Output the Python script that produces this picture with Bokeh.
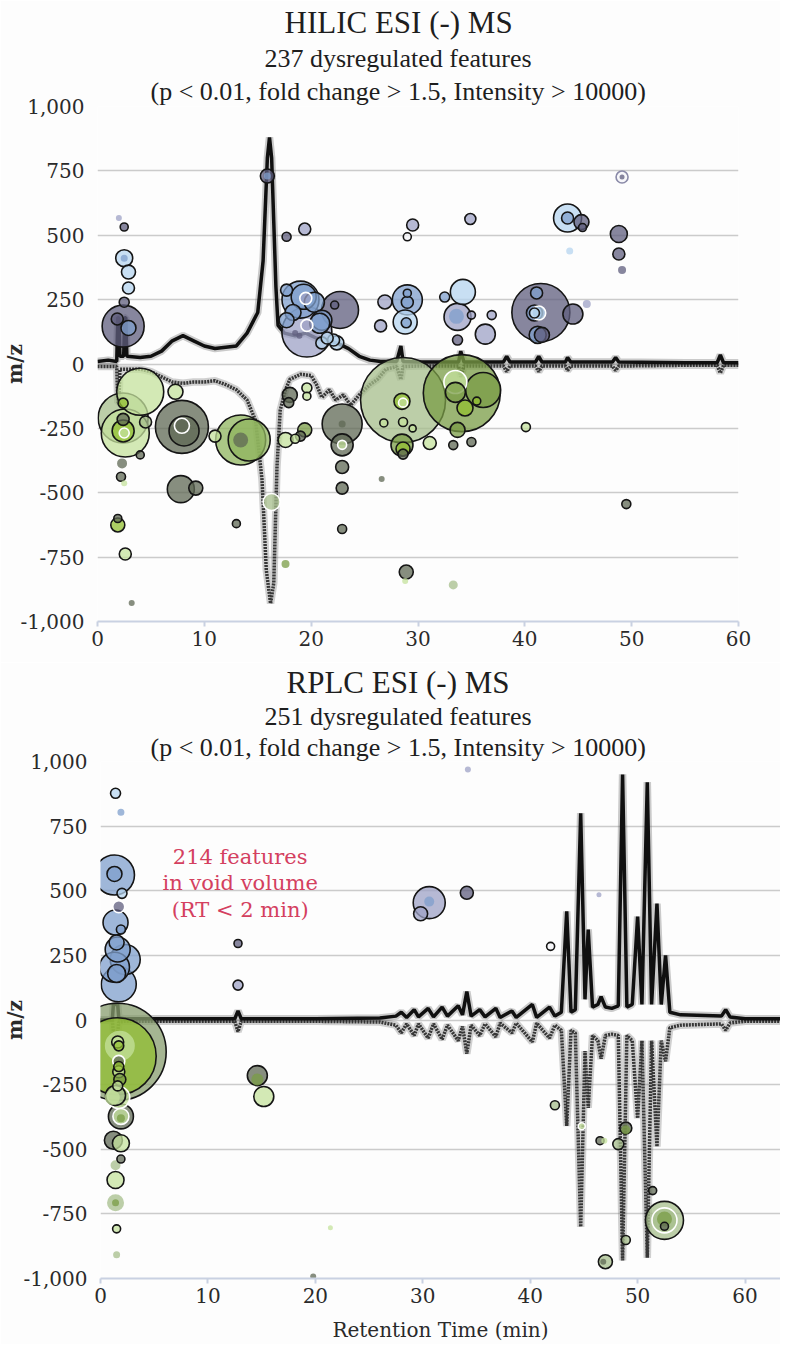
import math
from bokeh.plotting import figure
from bokeh.models import Range1d, FixedTicker, NumeralTickFormatter, ColumnDataSource, Title
from bokeh.embed import file_html
from bokeh.resources import INLINE
from bokeh.core.properties import value

# ---------------- DATA ----------------
y_ticks = [-1000, -750, -500, -250, 0, 250, 500, 750, 1000]
x_ticks = [0, 10, 20, 30, 40, 50, 60]

hilic_title = ["HILIC ESI (-) MS", "237 dysregulated features",
               "(p < 0.01, fold change > 1.5, Intensity > 10000)"]
rplc_title = ["RPLC ESI (-) MS", "251 dysregulated features",
              "(p < 0.01, fold change > 1.5, Intensity > 10000)"]
void_note = ["214 features", "in void volume", "(RT < 2 min)"]

# HILIC total-ion traces (retention time, signal on m/z scale)
hilic_pos_rt = [0, 1.0, 1.8, 1.9, 2.0, 2.1, 2.45, 2.55, 2.65, 2.75,
                4, 5, 6, 7, 8, 9, 10, 11, 12, 13,
                14, 15.0, 15.5, 15.7, 15.9, 16.1, 16.3, 16.5, 16.7, 16.9,
                17.5, 18.5, 19.5, 20.5, 21.5, 22.5, 23.5, 24.5, 25.5, 26.5,
                28, 28.4, 28.6, 30, 33.8, 34, 34.3, 36, 38, 38.3,
                38.6, 41, 41.3, 41.6, 43.8, 44, 44.3, 48.2, 48.5, 48.8,
                55, 58, 58.3, 58.6, 60]
hilic_pos_val = [10, 15, 10, 180, 180, 30, 30, 180, 180, 30,
                 25, 30, 50, 90, 110, 90, 70, 60, 65, 70,
                 120, 200, 400, 600, 800, 880, 800, 550, 300, 150,
                 120, 110, 120, 100, 90, 80, 60, 30, 15, 10,
                 10, 70, 10, 8, 8, 50, 8, 8, 8, 30,
                 8, 8, 30, 8, 8, 25, 8, 8, 25, 8,
                 5, 5, 35, 5, 5]
hilic_neg_rt = [0, 1.8, 1.9, 2.0, 2.1, 3, 4, 5, 6, 7,
                8, 9, 10, 11, 12, 13, 14, 14.8, 15.4, 15.8,
                16.2, 16.5, 16.8, 17.1, 17.6, 18, 19, 20, 20.5, 21,
                21.7, 22.3, 23, 23.7, 24.5, 25.5, 26.2, 27, 28, 28.4,
                28.6, 30, 33.8, 34, 34.3, 36, 38, 38.3, 38.6, 41,
                41.3, 41.6, 43.8, 44, 44.3, 48.2, 48.5, 48.8, 55, 58,
                58.3, 58.6, 60]
hilic_neg_val = [-10, -10, -150, -150, -20, -20, -20, -30, -50, -70,
                 -75, -70, -70, -65, -80, -100, -140, -220, -450, -800,
                 -930, -850, -400, -180, -100, -60, -40, -45, -80, -130,
                 -100, -140, -120, -160, -120, -80, -60, -20, -10, -60,
                 -10, -8, -8, -50, -8, -8, -8, -30, -8, -8,
                 -30, -8, -8, -25, -8, -8, -25, -8, -5, -5,
                 -35, -5, -5]

# RPLC total-ion traces
rplc_rt = [0, 1.1, 1.2, 1.6, 1.7, 2.2, 8, 12.5, 12.8, 13.1,
           20, 26, 27.5, 28, 28.5, 29.2, 29.6, 30.5, 31, 31.8,
           32.3, 33.3, 33.7, 34.1, 34.5, 35.3, 35.8, 36.8, 37.2, 38.3,
           38.7, 40.2, 40.6, 41.8, 42.3, 42.9, 43.4, 43.8, 44.2, 44.7,
           45.1, 45.4, 45.8, 46.3, 46.6, 47.0, 47.6, 48.2, 48.6, 49.0,
           49.5, 50.0, 50.4, 50.9, 51.3, 51.8, 52.2, 52.6, 53.0, 54.0,
           57.8, 58.2, 58.6, 60, 64]
rplc_pos_val = [0, 0, 60, 60, 8, 5, 5, 5, 35, 5,
                5, 8, 15, 30, 10, 40, 12, 45, 12, 50,
                15, 55, 20, 110, 15, 40, 12, 45, 10, 35,
                10, 60, 10, 50, 15, 30, 420, 30, 40, 800,
                80, 350, 50, 60, 90, 50, 45, 55, 950, 50,
                60, 400, 60, 920, 60, 450, 60, 250, 30, 20,
                15, 40, 12, 5, 5]
rplc_neg_val = [0, 0, -50, -50, -8, -5, -5, -5, -45, -5,
                -5, -8, -20, -50, -15, -60, -15, -70, -15, -75,
                -20, -80, -25, -130, -20, -60, -15, -65, -12, -50,
                -12, -85, -12, -70, -20, -40, -410, -40, -50, -800,
                -120, -340, -60, -80, -150, -60, -55, -60, -930, -60,
                -80, -380, -80, -920, -80, -490, -80, -160, -30, -20,
                -15, -40, -12, -5, -5]

# HILIC dysregulated features: rt, m/z (signed), abundance (sqrt scale), class, edge
hilic_rt = [2.0, 2.5, 2.5, 2.5, 2.9, 2.9, 2.5, 2.4, 1.85, 2.9,
            15.9, 15.9, 17.7, 19.4, 17.7, 19.3, 19.0, 20.3, 18.3, 22.7,
            22.2, 19.6, 19.6, 18.9, 22.1, 17.7, 21.0, 20.8, 21.0, 22.4,
            19.5, 26.9, 26.5, 29.0, 29.0, 29.0, 28.8, 28.9, 34.2, 32.5,
            33.7, 33.6, 35.0, 33.7, 36.3, 36.9, 41.5, 41.1, 40.9, 40.9,
            41.3, 41.2, 41.6, 44.5, 29.5, 29.0, 34.9, 44.0, 44.0, 45.3,
            45.4, 44.2, 49.1, 49.1, 48.8, 48.8, 49.1, 45.8, 18.5, 21.5,
            4.0, 7.3, 2.4, 2.4, 2.6, 2.4, 2.5, 2.4, 4.5, 4.0,
            2.3, 2.2, 2.5, 7.9, 8.1, 7.9, 11.0, 13.4, 14.2, 13.4,
            7.8, 9.2, 13.0, 16.3, 17.6, 1.9, 1.9, 2.6, 3.2, 18.0,
            17.9, 19.6, 19.6, 17.6, 18.5, 19.4, 19.0, 22.9, 22.9, 22.9,
            22.9, 22.9, 22.9, 22.9, 26.6, 28.6, 34.1, 28.5, 28.6, 33.5,
            34.4, 35.5, 33.7, 33.3, 35.0, 40.1, 31.1, 28.5, 28.6, 28.6,
            28.6, 29.5, 26.8, 49.5, 28.9, 28.8, 33.3, 36.1, 33.5]
hilic_mz = [567, 532, 411, 411, 357, 295, 240, 147, 175, 140,
            730, 730, 494, 524, 287, 261, 250, 240, 200, 210,
            229, 124, 150, 110, 93, 170, 170, 158, 82, 82,
            255, 241, 148, 249, 275, 240, 163, 160, 280, 260,
            183, 185, 190, 93, 116, 190, 200, 276, 198, 198,
            198, 113, 113, 194, 540, 494, 563, 567, 567, 551,
            530, 439, 726, 726, 505, 427, 365, 233, 120, 101,
            -108, -108, -152, -210, -268, -260, -268, -215, -225, -353,
            -386, -438, -463, -244, -260, -240, -280, -295, -295, -295,
            -486, -482, -620, -536, -777, -625, -600, -738, -928, -120,
            -150, -93, -125, -295, -290, -256, -280, -233, -233, -314,
            -314, -400, -482, -641, -447, -140, -113, -145, -150, -70,
            -171, -144, -256, -315, -303, -245, -307, -315, -330, -350,
            -225, -250, -229, -544, -808, -843, -858, -101, -110]
hilic_abund = [6, 8, 17, 7, 14, 12, 10, 42, 12, 15,
               14, 7, 9, 12, 12, 25, 37, 20, 16, 37,
               8, 50, 12, 6, 12, 15, 20, 20, 12, 14,
               12, 14, 12, 30, 8, 12, 24, 10, 25, 10,
               27, 15, 8, 10, 20, 9, 58, 12, 16, 10,
               14, 17, 15, 20, 12, 8, 11, 28, 12, 15,
               8, 7, 12, 5, 17, 12, 8, 8, 6, 12,
               47, 15, 10, 50, 48, 22, 10, 12, 12, 8,
               10, 9, 6, 53, 30, 15, 12, 50, 42, 15,
               27, 14, 8, 17, 8, 14, 8, 12, 6, 15,
               10, 10, 8, 15, 9, 14, 10, 40, 7, 22,
               9, 13, 12, 9, 6, 85, 77, 16, 9, 23,
               16, 8, 15, 9, 9, 9, 13, 22, 14, 10,
               9, 7, 8, 9, 14, 6, 9, 35, 20]
hilic_class = ["V", "P", "L", "B", "L", "L", "P", "P", "P", "B",
               "P", "B", "P", "V", "B", "B", "B", "B", "B", "P",
               "P", "V", "V", "P", "L", "B", "B", "B", "L", "L",
               "V", "V", "V", "B", "B", "B", "L", "B", "L", "B",
               "V", "B", "V", "P", "V", "V", "P", "B", "B", "L",
               "L", "B", "P", "P", "V", "X", "V", "L", "B", "P",
               "P", "L", "X", "P", "P", "P", "P", "V", "P", "L",
               "G", "G", "Y", "S", "G", "Y", "G", "D", "S", "D",
               "D", "D", "G", "D", "D", "D", "G", "M", "M", "D",
               "D", "D", "D", "S", "O", "Y", "D", "G", "D", "D",
               "D", "G", "G", "G", "G", "O", "D", "D", "D", "D",
               "G", "D", "D", "D", "D", "S", "O", "Y", "G", "G",
               "Y", "Y", "O", "D", "D", "G", "G", "O", "Y", "D",
               "G", "G", "G", "D", "D", "G", "S", "O", "O"]
hilic_edge = ["n", "k", "k", "n", "k", "k", "k", "k", "k", "k",
              "k", "n", "k", "k", "k", "k", "k", "k", "k", "k",
              "k", "k", "w", "n", "k", "k", "k", "k", "k", "k",
              "w", "k", "k", "k", "k", "k", "k", "k", "k", "k",
              "k", "n", "k", "k", "k", "k", "k", "k", "k", "k",
              "w", "k", "k", "k", "k", "k", "k", "k", "k", "k",
              "k", "n", "p", "n", "k", "k", "n", "n", "n", "k",
              "k", "k", "k", "k", "k", "k", "w", "k", "k", "k",
              "n", "k", "n", "k", "k", "w", "k", "k", "k", "n",
              "k", "k", "k", "w", "n", "k", "k", "k", "n", "k",
              "k", "k", "k", "k", "k", "k", "k", "k", "n", "k",
              "w", "k", "k", "k", "n", "k", "k", "k", "w", "w",
              "k", "k", "k", "k", "k", "k", "k", "k", "k", "k",
              "k", "k", "k", "k", "k", "n", "n", "k", "k"]

# RPLC dysregulated features
rplc_f_rt = [1.4, 1.9, 1.3, 1.3, 2.0, 1.7, 1.4, 1.9, 1.6, 2.3,
             1.3, 1.7, 1.5, 1.5, 12.8, 12.8, 34.2, 30.6, 30.6, 29.8,
             34.1, 41.9, 46.4,
             1.6, 1.6, 1.8, 1.7, 1.6, 1.7, 1.6, 1.4, 1.7, 1.1,
             1.9, 1.9, 1.9, 1.2, 1.9, 1.9, 1.4, 1.4, 1.4, 1.4,
             1.5, 1.5, 14.6, 14.6, 15.2, 21.4, 19.8, 42.3, 44.8, 46.5,
             46.9, 48.9, 48.9, 48.2, 51.4, 52.5, 52.5, 52.5, 52.5, 48.9,
             47.0, 46.8, 1.7, 1.7, 1.8]
rplc_f_mz = [877, 804, 561, 565, 490, 438, 377, 350, 273, 234,
             204, 138, 300, 180, 296, 135, 969, 454, 458, 411,
             492, 285, 485,
             -123, -140, -100, -160, -85, -200, -255, -292, -300, -300,
             -373, -373, -380, -465, -477, -538, -562, -619, -707, -707,
             -808, -908, -215, -230, -296, -804, -992, -330, -411, -467,
             -467, -418, -425, -480, -660, -775, -775, -770, -798, -851,
             -935, -935, -100, -180, -230]
rplc_f_abund = [10, 7, 40, 15, 10, 12, 25, 9, 25, 30,
                30, 35, 15, 18, 8, 10, 6, 32, 10, 14,
                13, 8, 5,
                97, 77, 30, 12, 12, 12, 10, 20, 22, 15,
                25, 16, 8, 18, 17, 8, 10, 17, 17, 7,
                8, 7, 20, 12, 20, 5, 6, 9, 7, 8,
                6, 12, 9, 11, 8, 38, 25, 15, 8, 9,
                14, 6, 10, 10, 12]
rplc_f_class = ["L", "B", "B", "B", "L", "P", "B", "B", "B", "B",
                "B", "B", "B", "B", "P", "V", "V", "V", "B", "V",
                "P", "X", "V",
                "Q", "Y", "G", "D", "G", "G", "G", "S", "G", "G",
                "D", "G", "O", "D", "G", "D", "S", "G", "S", "O",
                "G", "S", "D", "O", "G", "G", "D", "S", "G", "D",
                "G", "D", "O", "S", "D", "S", "S", "O", "D", "S",
                "S", "D", "Y", "Y", "O"]
rplc_f_edge = ["k", "n", "k", "k", "k", "w", "k", "k", "k", "k",
               "k", "k", "k", "k", "k", "k", "n", "k", "n", "k",
               "k", "k", "n",
               "k", "k", "n", "w", "k", "k", "k", "k", "w", "n",
               "k", "w", "n", "k", "k", "k", "n", "k", "n", "n",
               "k", "n", "k", "n", "k", "n", "n", "k", "w", "k",
               "n", "k", "n", "k", "k", "k", "w", "n", "k", "k",
               "k", "n", "k", "k", "k"]

# ---------------- STYLE ----------------
CLASS_COLORS = {"P": "#5f5d7d", "B": "#7f9fcc", "L": "#b5d4ef", "V": "#9ea2c6",
                "X": "#f4f4f8", "D": "#5f6854", "S": "#a6be8b", "G": "#c4e29c",
                "Y": "#92bf30", "O": "#7a9c45", "M": "#8fb45e", "Q": "#879c6e"}
EDGE_STYLE = {"k": ("#151515", 1.0), "w": ("#ffffff", 1.0),
              "n": ("#000000", 0.0), "p": ("#8a8aa8", 1.0)}
SERIF = "DejaVu Serif"
TITLE_FONT = "Liberation Serif"
BG = "#fdfdfd"


def bubble_source(rt, mz, ab, cl, ed):
    assert len(rt) == len(mz) == len(ab) == len(cl) == len(ed)
    order = sorted(range(len(rt)), key=lambda i: -ab[i])
    return ColumnDataSource(dict(
        x=[rt[i] for i in order], y=[mz[i] for i in order],
        size=[ab[i] * 1.0 for i in order],
        fill=[CLASS_COLORS[cl[i]] for i in order],
        line=[EDGE_STYLE[ed[i]][0] for i in order],
        lalpha=[EDGE_STYLE[ed[i]][1] for i in order]))


def make_fig(height, xmax, left, right, top, bottom, ylab_standoff, titles, offsets,
             title_standoff, xlabel=None):
    p = figure(width=780, height=height, x_range=Range1d(0, xmax),
               y_range=Range1d(-1000, 1000), output_backend="svg",
               toolbar_location=None, title=None,
               min_border_left=left, min_border_right=right,
               min_border_bottom=bottom, min_border_top=top)
    p.background_fill_color = BG
    p.border_fill_color = BG
    p.outline_line_color = None
    p.xgrid.grid_line_color = None
    p.ygrid.grid_line_color = "#cbcbcb"
    p.ygrid.grid_line_width = 1.5
    p.yaxis.ticker = FixedTicker(ticks=y_ticks)
    p.xaxis.ticker = FixedTicker(ticks=x_ticks)
    p.yaxis.formatter = NumeralTickFormatter(format="0,0")
    for ax in (p.xaxis, p.yaxis):
        ax.major_label_text_font = SERIF
        ax.major_label_text_font_size = "20px"
        ax.major_label_text_color = "#2a2a2a"
        ax.minor_tick_line_color = None
        ax.axis_label_text_font = SERIF
        ax.axis_label_text_font_size = "20px"
        ax.axis_label_text_color = "#2a2a2a"
    p.yaxis.axis_line_color = None
    p.yaxis.major_tick_line_color = None
    p.yaxis.major_label_standoff = 7
    p.yaxis.axis_label = "m/z"
    p.yaxis.axis_label_text_font_style = "bold"
    p.yaxis.axis_label_standoff = ylab_standoff
    p.xaxis.axis_line_color = "#c9d1e2"
    p.xaxis.axis_line_width = 2
    p.xaxis.major_tick_line_color = "#c9d1e2"
    p.xaxis.major_tick_line_width = 2
    p.xaxis.major_tick_out = 5
    p.xaxis.major_tick_in = 0
    p.xaxis.major_label_standoff = 4
    if xlabel:
        p.xaxis.axis_label = xlabel
        p.xaxis.axis_label_text_font_style = "normal"
        p.xaxis.axis_label_standoff = 12
    sizes = ["31px", "26px", "26px"]
    # add from the line nearest the plot outward
    for txt, fs, off in reversed(list(zip(titles, sizes, offsets))):
        p.add_layout(Title(text=txt, align="left", offset=off, text_font=TITLE_FONT,
                           text_font_size=fs, text_font_style="normal",
                           text_color="#1e1e1e", standoff=title_standoff), "above")
    return p


def draw_traces(p, pos_rt, pos_val, neg_rt, neg_val, w):
    p.line(pos_rt, pos_val, line_color="#6a6a6a", line_alpha=0.35, line_width=w + 4)
    p.line(neg_rt, neg_val, line_color="#6a6a6a", line_alpha=0.3, line_width=w + 4)
    p.line(neg_rt, neg_val, line_color="#262626", line_alpha=0.9, line_width=w,
           line_dash="2 1")
    p.line(pos_rt, pos_val, line_color="#101010", line_width=w)


# ---------------- HILIC ----------------
p1 = make_fig(662, 60, 96, 42, 106, 41, -10, hilic_title, [187, 167, 53], 2)
draw_traces(p1, hilic_pos_rt, hilic_pos_val, hilic_neg_rt, hilic_neg_val, 3.5)
p1.scatter(x="x", y="y", size="size", fill_color="fill", fill_alpha=0.75,
           line_color="line", line_alpha="lalpha", line_width=1.6,
           source=bubble_source(hilic_rt, hilic_mz, hilic_abund, hilic_class, hilic_edge))

# ---------------- RPLC ----------------
p2 = make_fig(682, 63.3, 99, 0, 99, 64, -7, rplc_title, [186, 164, 50], 0,
              xlabel="Retention Time (min)")
draw_traces(p2, rplc_rt, rplc_pos_val, rplc_rt, rplc_neg_val, 3.5)
p2.scatter(x="x", y="y", size="size", fill_color="fill", fill_alpha=0.75,
           line_color="line", line_alpha="lalpha", line_width=1.6,
           source=bubble_source(rplc_f_rt, rplc_f_mz, rplc_f_abund, rplc_f_class, rplc_f_edge))
p2.text(x=[13.0, 13.0, 13.0], y=[631, 529, 427], text=void_note,
        text_font=value(SERIF), text_font_size="21px", text_color="#d4405f",
        text_align="center", text_baseline="middle")

open("out.html", "w").write(file_html([p1, p2], INLINE))
